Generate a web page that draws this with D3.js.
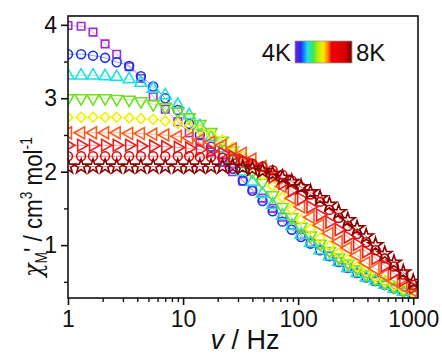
<!DOCTYPE html>
<html>
<head>
<meta charset="utf-8">
<script src="https://cdn.jsdelivr.net/npm/d3@7"></script>
<style>
  body { margin: 0; background: #fff; }
  svg { display: block; font-family: "Liberation Sans", Arial, sans-serif; }
</style>
</head>
<body>
<svg id="chart" width="442" height="356"></svg>
<script>
// frequencies (Hz)
const freqs = [1, 1.3, 1.65, 2.1, 2.65, 3.4, 4.3, 5.5, 7, 9, 11.3, 14, 17.5, 22, 27, 33, 40, 49, 60, 73,
  88, 106, 128, 155, 187, 225, 270, 325, 390, 470, 565, 680, 820, 1000];

// chi' values, one list per temperature (4 K -> 8 K)
const chi4K0 = [3.99, 3.98, 3.90, 3.74, 3.60, 3.43, 3.27, 3.02, 2.85, 2.68, 2.53, 2.40, 2.27, 2.13, 2.00, 1.87, 1.76, 1.64, 1.50, 1.38,
  1.27, 1.14, 1.03, 0.93, 0.85, 0.77, 0.69, 0.62, 0.56, 0.51, 0.46, 0.41, 0.37, 0.33];
const chi4K5 = [3.60, 3.60, 3.58, 3.55, 3.49, 3.44, 3.30, 3.16, 3.00, 2.84, 2.65, 2.50, 2.34, 2.19, 2.04, 1.88, 1.74, 1.60, 1.46, 1.32,
  1.21, 1.11, 1.02, 0.93, 0.85, 0.77, 0.69, 0.62, 0.56, 0.51, 0.46, 0.41, 0.37, 0.33];
const chi5K0 = [3.31, 3.31, 3.31, 3.30, 3.29, 3.26, 3.21, 3.13, 3.04, 2.91, 2.77, 2.62, 2.47, 2.32, 2.16, 2.00, 1.86, 1.70, 1.55, 1.40,
  1.26, 1.14, 1.03, 0.93, 0.85, 0.77, 0.69, 0.62, 0.56, 0.51, 0.46, 0.41, 0.37, 0.33];
const chi5K5 = [3.00, 3.00, 3.00, 3.00, 2.99, 2.98, 2.96, 2.92, 2.88, 2.82, 2.74, 2.65, 2.54, 2.42, 2.29, 2.15, 2.00, 1.85, 1.68, 1.52,
  1.38, 1.25, 1.13, 1.02, 0.92, 0.83, 0.75, 0.67, 0.60, 0.54, 0.48, 0.43, 0.38, 0.34];
const chi6K0 = [2.74, 2.74, 2.74, 2.74, 2.74, 2.73, 2.72, 2.71, 2.69, 2.66, 2.62, 2.57, 2.51, 2.43, 2.33, 2.22, 2.10, 1.96, 1.81, 1.65,
  1.49, 1.35, 1.22, 1.10, 0.99, 0.89, 0.80, 0.71, 0.64, 0.57, 0.51, 0.45, 0.40, 0.35];
const chi6K5 = [2.53, 2.53, 2.53, 2.53, 2.53, 2.52, 2.52, 2.51, 2.50, 2.48, 2.46, 2.43, 2.40, 2.36, 2.31, 2.25, 2.17, 2.07, 1.95, 1.80,
  1.64, 1.52, 1.38, 1.27, 1.16, 1.05, 0.96, 0.86, 0.76, 0.68, 0.59, 0.51, 0.44, 0.38];
const chi7K0 = [2.36, 2.36, 2.36, 2.36, 2.36, 2.36, 2.35, 2.35, 2.34, 2.33, 2.32, 2.30, 2.28, 2.25, 2.21, 2.16, 2.10, 2.02, 1.93, 1.84,
  1.74, 1.63, 1.52, 1.41, 1.31, 1.21, 1.11, 1.01, 0.91, 0.82, 0.72, 0.62, 0.52, 0.42];
const chi7K5 = [2.21, 2.21, 2.21, 2.21, 2.21, 2.21, 2.21, 2.21, 2.21, 2.21, 2.21, 2.20, 2.20, 2.19, 2.17, 2.14, 2.11, 2.07, 2.02, 1.96,
  1.88, 1.79, 1.69, 1.59, 1.48, 1.37, 1.26, 1.15, 1.04, 0.93, 0.82, 0.71, 0.60, 0.46];
const chi8K0 = [2.07, 2.07, 2.07, 2.07, 2.07, 2.07, 2.07, 2.07, 2.07, 2.07, 2.07, 2.07, 2.07, 2.07, 2.07, 2.06, 2.04, 2.01, 1.97, 1.92,
  1.86, 1.79, 1.72, 1.64, 1.55, 1.45, 1.34, 1.23, 1.12, 1.00, 0.88, 0.76, 0.63, 0.50];

const xTicks = [1, 10, 100, 1000];
const yTicks = [1, 2, 3, 4];
const yMinorTicks = [0.5, 1.5, 2.5, 3.5];
const legendLabels = ["4K", "8K"];

// marker look for each temperature
const looks = [
  { data: chi4K0, color: "#9a30d0", shape: d3.symbolSquare, rot: 0, size: 56 },
  { data: chi4K5, color: "#1733f0", shape: d3.symbolCircle, rot: 0, size: 62 },
  { data: chi5K0, color: "#22dede", shape: d3.symbolTriangle, rot: 0, size: 62 },
  { data: chi5K5, color: "#6fe01c", shape: d3.symbolTriangle, rot: 180, size: 62 },
  { data: chi6K0, color: "#f2f000", shape: d3.symbolSquare, rot: 45, size: 48 },
  { data: chi6K5, color: "#ff5a1a", shape: d3.symbolTriangle, rot: -90, size: 62 },
  { data: chi7K0, color: "#f01c1c", shape: d3.symbolTriangle, rot: 90, size: 62 },
  { data: chi7K5, color: "#dd0a0a", shape: d3.symbolCircle, rot: 0, size: 62 },
  { data: chi8K0, color: "#8b0000", shape: d3.symbolStar, rot: 0, size: 66 }
];

const L = 68, R = 418, T = 16, B = 298;
const svg = d3.select("#chart");

const x = d3.scaleLog().domain([1, 1100]).range([L, R]);
const y = d3.scaleLinear().domain([0.28, 4.12]).range([B, T]);

svg.append("defs").append("clipPath").attr("id", "plotclip")
  .append("rect").attr("x", L).attr("y", T).attr("width", R - L).attr("height", B - T);

// thin fit lines + hollow markers
const plot = svg.append("g").attr("clip-path", "url(#plotclip)");
const line = d3.line()
  .x((d, i) => x(freqs[i]))
  .y(d => y(d))
  .curve(d3.curveMonotoneX);

looks.forEach(function(s) {
  plot.append("path")
    .attr("d", line(s.data))
    .attr("fill", "none")
    .attr("stroke", s.color)
    .attr("stroke-opacity", 0.75)
    .attr("stroke-width", 0.6);
  plot.selectAll(null)
    .data(s.data)
    .enter().append("path")
    .attr("d", d3.symbol().type(s.shape).size(s.size))
    .attr("transform", (d, i) => "translate(" + x(freqs[i]) + "," + y(d) + ") rotate(" + s.rot + ")")
    .attr("fill", "none")
    .attr("stroke", s.color)
    .attr("stroke-width", 1.6);
});

// frame
svg.append("rect")
  .attr("x", L).attr("y", T).attr("width", R - L).attr("height", B - T)
  .attr("fill", "none").attr("stroke", "#111").attr("stroke-width", 1.6);

// x axis
const xMinor = [];
[1, 10, 100].forEach(function(dec) {
  for (let k = 2; k <= 9; k++) xMinor.push(dec * k);
});
svg.append("g").attr("transform", "translate(0," + B + ")")
  .call(d3.axisBottom(x).tickValues(xMinor).tickSize(4).tickFormat("").tickSizeOuter(0))
  .call(g => g.select(".domain").remove())
  .call(g => g.selectAll("line").attr("stroke", "#111").attr("stroke-width", 1.4));
svg.append("g").attr("transform", "translate(0," + B + ")")
  .call(d3.axisBottom(x).tickValues(xTicks).tickSize(7).tickPadding(6).tickFormat(d3.format("d")).tickSizeOuter(0))
  .call(g => g.select(".domain").remove())
  .call(g => g.selectAll("line").attr("stroke", "#111").attr("stroke-width", 1.6))
  .call(g => g.selectAll("text").attr("font-size", 23).attr("fill", "#111")
    .attr("font-family", "Liberation Sans, Arial, sans-serif"));

// y axis
svg.append("g").attr("transform", "translate(" + L + ",0)")
  .call(d3.axisLeft(y).tickValues(yMinorTicks).tickSize(4).tickFormat("").tickSizeOuter(0))
  .call(g => g.select(".domain").remove())
  .call(g => g.selectAll("line").attr("stroke", "#111").attr("stroke-width", 1.4));
svg.append("g").attr("transform", "translate(" + L + ",0)")
  .call(d3.axisLeft(y).tickValues(yTicks).tickSize(7).tickPadding(4).tickFormat(d3.format("d")).tickSizeOuter(0))
  .call(g => g.select(".domain").remove())
  .call(g => g.selectAll("line").attr("stroke", "#111").attr("stroke-width", 1.6))
  .call(g => g.selectAll("text").attr("font-size", 23).attr("fill", "#111")
    .attr("font-family", "Liberation Sans, Arial, sans-serif"));

// axis titles
const xt = svg.append("text")
  .attr("x", 245).attr("y", 349)
  .attr("text-anchor", "middle").attr("font-size", 27).attr("fill", "#111");
xt.append("tspan").attr("font-style", "italic").text("v");
xt.append("tspan").text(" / Hz");

const yt = svg.append("text")
  .attr("transform", "translate(42,277) rotate(-90) scale(0.86,1)")
  .attr("text-anchor", "start").attr("font-size", 26).attr("fill", "#111");
yt.append("tspan").attr("font-style", "italic").attr("font-family", "DejaVu Serif, serif").text("χ");
yt.append("tspan").attr("font-size", 16).attr("dy", 5).text("M");
yt.append("tspan").attr("dy", -5).text("' / cm");
yt.append("tspan").attr("font-size", 16).attr("dy", -10).text("3");
yt.append("tspan").attr("dy", 10).text(" mol");
yt.append("tspan").attr("font-size", 16).attr("dy", -10).text("-1");

// colour legend
const grad = svg.select("defs").append("linearGradient").attr("id", "tgrad");
[[0, "#7a1fd6"], [0.1, "#1d2cf5"], [0.22, "#19e0f0"], [0.32, "#3ee84a"], [0.42, "#c8f000"], [0.5, "#ffe800"],
 [0.58, "#ff7a10"], [0.64, "#f00000"], [0.86, "#dd0000"], [1, "#7a0000"]].forEach(function(st) {
  grad.append("stop").attr("offset", st[0]).attr("stop-color", st[1]);
});
svg.append("rect")
  .attr("x", 295).attr("y", 41).attr("width", 57).attr("height", 22)
  .attr("fill", "url(#tgrad)").attr("stroke", "#999").attr("stroke-width", 0.8);
svg.append("text").attr("x", 291).attr("y", 61).attr("text-anchor", "end")
  .attr("font-size", 24).attr("fill", "#111").text(legendLabels[0]);
svg.append("text").attr("x", 356).attr("y", 61)
  .attr("font-size", 24).attr("fill", "#111").text(legendLabels[1]);
</script>
</body>
</html>
